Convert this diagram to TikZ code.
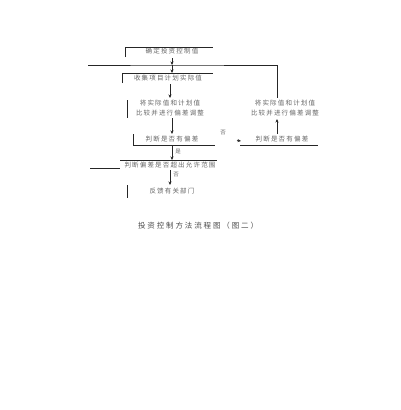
\documentclass[tikz,border=0pt]{standalone}
\usepackage{fontspec}
\newfontfamily\cjk[LetterSpace=18]{Noto Sans CJK SC}
\newfontfamily\cjkt[LetterSpace=25]{Noto Sans CJK SC}
\usetikzlibrary{arrows.meta}
\begin{document}
\begin{tikzpicture}[x=1pt,y=-1pt,
  txt/.style={font=\cjk\fontsize{6.5}{9.5}\selectfont, text=black!60, inner sep=0pt, align=center},
  ln/.style={draw=black!85, line width=0.6pt},
  arr/.style={ln, -{Stealth[length=3.5pt,width=3pt]}},
  lbl/.style={font=\cjk\fontsize{5.5}{7}\selectfont, text=black!60, inner sep=0pt}]
\useasboundingbox[fill=white] (0,0) rectangle (400,410);
% nodes
\node[txt] (t1) at (172,51) {确定投资控制值};
\node[txt] (t2) at (168,78) {收集项目计划实际值};
\node[txt] (t3) at (170,108) {将实际值和计划值\\比较并进行偏差调整};
\node[txt] (t4) at (172,139) {判断是否有偏差};
\node[txt] (r3) at (285,108) {将实际值和计划值\\比较并进行偏差调整};
\node[txt] (r4) at (282,139) {判断是否有偏差};
\node[txt] (t5) at (170,165) {判断偏差是否超出允许范围};
\node[txt] (t6) at (172,191) {反馈有关部门};
\node[font=\cjkt\fontsize{7.5}{10}\selectfont, text=black!70, inner sep=0pt] (title) at (198,226) {投资控制方法流程图（图二）};
% box outlines
\draw[ln] (125,57) -- (125,47) -- (213,47);
\draw[ln] (122,83) -- (122,73) -- (213,73);
\draw[ln] (127,100) -- (127,118);
\draw[ln] (133,134) -- (133,145) -- (215,145);
\draw[ln] (240,145) -- (318,145);
\draw[ln] (120,160) -- (217,160);
\draw[ln] (90,168) -- (120,168);
\draw[ln] (127,185) -- (127,198);
% feedback loop
\coordinate (j) at (172,65);
\coordinate (rc) at (277,65);
\coordinate (a1) at (172,58);
\draw[ln] (88,65) -- (j) -- (rc) -- (277,98);
\draw[arr] (a1) -- (j);
\draw[arr] (j) -- (172,73);
% main arrows
\coordinate (b1) at (170,84);
\coordinate (b2) at (170,98);
\draw[arr] (b1) -- (b2);
\coordinate (c1) at (172,118);
\coordinate (c2) at (172,134);
\draw[arr] (c1) -- (c2);
\coordinate (d1) at (172,146);
\coordinate (d2) at (172,160);
\draw[arr] (d1) -- (d2);
\node[lbl] at (178,152) {是};
\coordinate (e1) at (170,170);
\coordinate (e2) at (170,185);
\draw[arr] (e1) -- (e2);
\node[lbl] at (176,175) {否};
\coordinate (f1) at (277,134);
\coordinate (f2) at (277,119);
\draw[arr] (f1) -- (f2);
\node[lbl] (no) at (223,133) {否};
\coordinate (ah) at (241,141);
\draw[arr] (237,140.5) -- (ah);
\end{tikzpicture}
\end{document}
